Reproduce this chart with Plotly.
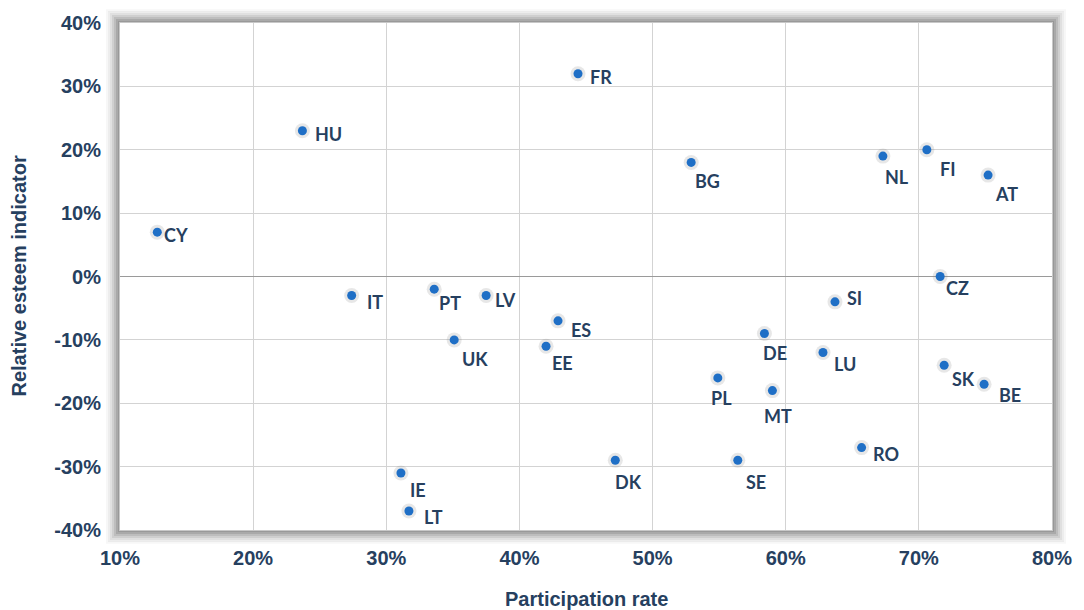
import plotly.graph_objects as go

countries = ["FR", "HU", "CY", "IT", "PT", "LV", "UK", "ES", "EE", "BG", "NL", "FI", "AT", "CZ",
             "SI", "DE", "LU", "PL", "MT", "SK", "BE", "RO", "SE", "DK", "IE", "LT"]
participation = [44.4, 23.7, 12.8, 27.4, 33.6, 37.5, 35.1, 42.9, 42.0, 52.9, 67.3, 70.6, 75.2, 71.6,
                 63.7, 58.4, 62.8, 54.9, 59.0, 71.9, 74.9, 65.7, 56.4, 47.2, 31.1, 31.7]
esteem = [32, 23, 7, -3, -2, -3, -10, -7, -11, 18, 19, 20, 16, 0,
          -4, -9, -12, -16, -18, -14, -17, -27, -29, -29, -31, -37]

# label offsets in pixels (dx right, dy down) - styling only
label_offsets = {
    "FR": (23, 3), "HU": (26, 3), "CY": (19, 3), "IT": (23, 6), "PT": (16, 14), "LV": (19, 4),
    "UK": (21, 19), "ES": (23, 9), "EE": (16, 17), "BG": (16, 19), "NL": (14, 21), "FI": (21, 19),
    "AT": (18, 19), "CZ": (17, 11), "SI": (20, -4), "DE": (11, 19), "LU": (22, 11), "PL": (4, 20),
    "MT": (6, 25), "SK": (19, 14), "BE": (26, 11), "RO": (24, 6), "SE": (18, 22), "DK": (13, 22),
    "IE": (17, 17), "LT": (25, 6),
}

x_ticks = [10, 20, 30, 40, 50, 60, 70, 80]
y_ticks = [-40, -30, -20, -10, 0, 10, 20, 30, 40]

navy = "#26405F"
W, H = 1084, 610
ML, MR, MT_, MB = 120, 29, 18, 80
pw, ph = W - ML - MR, H - MT_ - MB

fig = go.Figure()
# soft glow behind markers
fig.add_trace(go.Scatter(
    x=participation, y=esteem, mode="markers",
    marker=dict(color="rgba(120,120,120,0.18)", size=15, line=dict(width=0)),
    hoverinfo="skip", showlegend=False,
))
fig.add_trace(go.Scatter(
    x=participation, y=esteem, mode="markers",
    marker=dict(color="#1F6FC6", size=9, line=dict(width=0)),
    hoverinfo="text", text=countries, showlegend=False,
))

annotations = []
for c, xv, yv in zip(countries, participation, esteem):
    dx, dy = label_offsets[c]
    annotations.append(dict(
        x=xv, y=yv, xref="x", yref="y", text=c, showarrow=False,
        xshift=dx, yshift=-dy, xanchor="center", yanchor="middle",
        font=dict(family="Lato", size=18, color=navy, weight="bold"),
    ))

annotations.append(dict(
    x=0.5, y=0, xref="paper", yref="paper", yshift=-69, yanchor="middle", xanchor="center",
    text="<b>Participation rate</b>", showarrow=False,
    font=dict(family="Liberation Sans, Arial", size=20, color=navy),
))
annotations.append(dict(
    x=0, y=0.5, xref="paper", yref="paper", xshift=-102, xanchor="center", yanchor="middle",
    text="<b>Relative esteem indicator</b>", showarrow=False, textangle=-90,
    font=dict(family="Liberation Sans, Arial", size=20, color=navy),
))

# soft shadow frame around plot area
shapes = []
alphas = [0.62, 0.52, 0.40, 0.29, 0.19, 0.11, 0.05]
for i, a in enumerate(alphas):
    d = 1 + 2 * i
    shapes.append(dict(
        type="rect", xref="paper", yref="paper",
        x0=-d / pw, x1=1 + d / pw, y0=-d / ph, y1=1 + d / ph,
        line=dict(color=f"rgba(90,90,90,{a})", width=2), fillcolor="rgba(0,0,0,0)",
        layer="below",
    ))

tickfont = dict(family="Liberation Sans, Arial", size=20, color=navy, weight="bold")

fig.update_layout(
    width=W, height=H,
    margin=dict(l=ML, r=MR, t=MT_, b=MB, pad=0),
    paper_bgcolor="white", plot_bgcolor="white",
    annotations=annotations, shapes=shapes,
    xaxis=dict(
        range=[10, 80], tickvals=x_ticks, ticktext=[f"{v}%" for v in x_ticks],
        showgrid=True, gridcolor="#D3D3D3", gridwidth=1, zeroline=False,
        showline=True, linecolor="#C8C8C8", linewidth=1, mirror=True,
        ticks="outside", ticklen=10, tickcolor="rgba(0,0,0,0)",
        tickfont=tickfont, fixedrange=True,
    ),
    yaxis=dict(
        range=[-40, 40], tickvals=y_ticks, ticktext=[f"{v}%" for v in y_ticks],
        showgrid=True, gridcolor="#D3D3D3", gridwidth=1,
        zeroline=True, zerolinecolor="#9A9A9A", zerolinewidth=1,
        showline=True, linecolor="#C8C8C8", linewidth=1, mirror=True,
        ticks="outside", ticklen=14, tickcolor="rgba(0,0,0,0)",
        tickfont=tickfont, fixedrange=True,
    ),
)

fig.write_html(
    "out.html",
    config={"displayModeBar": False},
    post_script="document.body.style.margin='0';document.body.style.overflow='hidden';",
)
